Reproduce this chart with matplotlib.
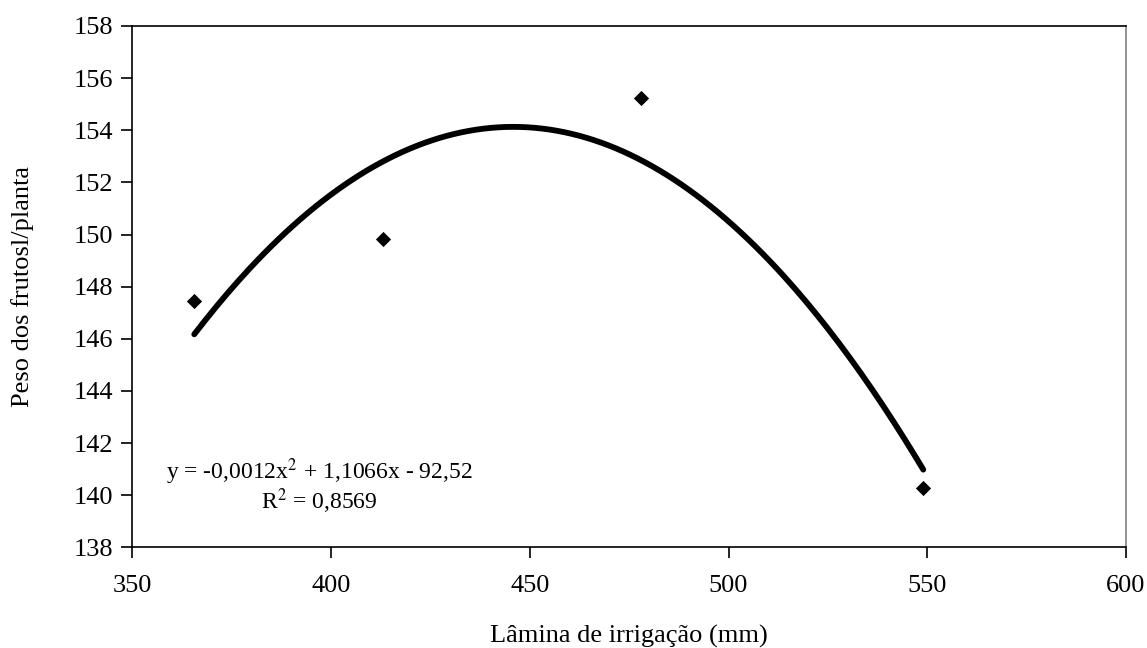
import numpy as np
import matplotlib.pyplot as plt

# Irrigation depth (mm) and fruit weight per plant
lamina = [365.6, 413.0, 478.0, 549.0]
peso = [147.44, 149.84, 155.24, 140.28]

x_ticks = [350, 400, 450, 500, 550, 600]
y_ticks = [138, 140, 142, 144, 146, 148, 150, 152, 154, 156, 158]

plt.rcParams['font.family'] = ['Liberation Serif', 'DejaVu Serif']

fig = plt.figure(figsize=(11.47, 6.48), dpi=100)
ax = fig.add_axes([0.1153, 0.1554, 0.8664, 0.8045])

# Quadratic trend line over the observed range
coef = np.polyfit(lamina, peso, 2)
xs = np.linspace(min(lamina), max(lamina), 200)
ax.plot(xs, np.polyval(coef, xs), color='black', lw=4.2, solid_capstyle='round')

ax.scatter(lamina, peso, marker='D', s=60, color='black', zorder=3, linewidths=0)

ax.set_xlim(350, 600)
ax.set_ylim(138, 158)
ax.set_xticks(x_ticks)
ax.set_yticks(y_ticks)
ax.tick_params(direction='out', length=8, width=1.2, labelsize=19, color='black')
ax.tick_params(axis='x', pad=12)
ax.tick_params(axis='y', pad=6)

for side in ['left', 'bottom', 'top']:
    ax.spines[side].set_linewidth(1.2)
ax.spines['right'].set_color('#808080')
ax.spines['right'].set_linewidth(1.2)

ax.set_xlabel('Lâmina de irrigação (mm)', fontsize=19, labelpad=20)
ax.set_ylabel('Peso dos frutosl/planta', fontsize=19, labelpad=28)

ax.text(397, 140.9, 'y = -0,0012x$^2$ + 1,1066x - 92,52', fontsize=17,
        ha='center', va='center', math_fontfamily='stix')
ax.text(397, 139.75, 'R$^2$ = 0,8569', fontsize=17,
        ha='center', va='center', math_fontfamily='stix')

fig.savefig('out.png', dpi=100)
